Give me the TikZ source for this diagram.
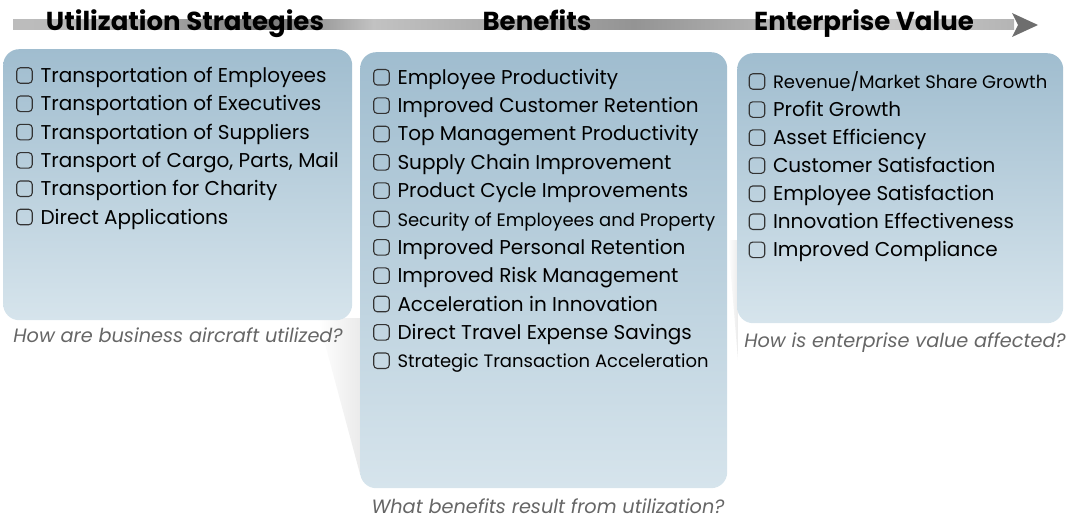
\documentclass[tikz,border=0pt]{standalone}
\usepackage{fontspec}
\setmainfont{Poppins}
\usetikzlibrary{calc}
\usetikzlibrary{positioning}
\definecolor{paneltop}{HTML}{A0BDCF}
\definecolor{panelbottom}{HTML}{D6E4EC}
\definecolor{questiongray}{HTML}{666666}
\definecolor{arrowgray}{HTML}{6E6E6E}
\pgfdeclarehorizontalshading{bandshade}{100bp}{color(0bp)=(white); color(4bp)=(black!18); color(30bp)=(black!28); color(38bp)=(black!52); color(43bp)=(black!24); color(56bp)=(black!42); color(68bp)=(black!20); color(80bp)=(black!36); color(90bp)=(black!32); color(100bp)=(black!60)}
\tikzstyle{panel}=[rectangle, rounded corners=16pt, top color=paneltop, bottom color=panelbottom, draw=none, inner sep=0pt]
\tikzstyle{checkbox}=[rectangle, draw=black!80, line width=1.1pt, rounded corners=3.5pt, minimum size=15.5pt, inner sep=0pt]
\tikzstyle{itemtext}=[anchor=west, inner sep=0pt, text height=18pt, text depth=4pt, font=\fontsize{20}{22}\selectfont]
\tikzstyle{heading}=[anchor=base, inner sep=0pt, font=\bfseries\fontsize{26}{28}\selectfont]
\tikzstyle{question}=[anchor=base, inner sep=0pt, text=questiongray, font=\itshape\fontsize{19.3}{21}\selectfont]
\tikzstyle{shadowwedge}=[left color=white, right color=black!8]
\newcommand{\drawchecklist}[5]{% Syntax: {name}{x of boxes}{first y}{row step}{items}
\pgfmathsetmacro{\boxx}{#2}
\pgfmathsetmacro{\firsty}{#3}
\pgfmathsetmacro{\rowstep}{#4}
  \foreach \txt [count=\i] in {#5} {
  \pgfmathsetmacro{\rowy}{\firsty + (\i-1)*\rowstep}
  \node[checkbox] (#1box\i) at (\boxx,\rowy) {};
  \node[itemtext, right=7.5pt of #1box\i] (#1item\i) {\txt};
}
}
\newcommand{\smalltext}[1]{{\fontsize{18}{20}\selectfont #1}}

\begin{document}
\begin{tikzpicture}[x=1pt, y=-1pt]
  \useasboundingbox (0,0) rectangle (1066,519);
  % header band with arrow head
  \shade[shading=bandshade] (13,20) rectangle (1014,30);
  \fill[arrowgray] (1012,13) -- (1038,25) -- (1012,37) -- (1018,25) -- cycle;
  \node[heading] (utilhead) at (185,31) {Utilization Strategies};
  \node[heading] (benefithead) at (537,31) {Benefits};
  \node[heading] (valuehead) at (864,31) {Enterprise Value};
  % faint shadows between the panels
  \shade[shadowwedge] (318,318) -- (360,318) -- (360,474) -- cycle;
  \shade[shadowwedge] (728,240) -- (738,240) -- (738,360) -- cycle;
  % panels
  \node[panel, minimum width=349pt, minimum height=271pt, anchor=north west] (utilpanel) at (3,49) {};
  \node[panel, minimum width=367pt, minimum height=436pt, anchor=north west] (benefitpanel) at (360,52) {};
  \node[panel, minimum width=326pt, minimum height=270pt, anchor=north west] (valuepanel) at (737,53) {};
  % lists
  \drawchecklist{util}{24.5}{75.5}{28.3}{Transportation of Employees, Transportation of Executives, Transportation of Suppliers, {Transport of Cargo, Parts, Mail}, Transportion for Charity, Direct Applications}
  \drawchecklist{benefit}{381.5}{77.3}{28.34}{Employee Productivity, Improved Customer Retention, Top Management Productivity, Supply Chain Improvement, Product Cycle Improvements, \smalltext{Security of Employees and Property}, Improved Personal Retention, Improved Risk Management, Acceleration in Innovation, Direct Travel Expense Savings, \smalltext{Strategic Transaction Acceleration}}
  \drawchecklist{value}{757}{81.5}{28.05}{\smalltext{Revenue/Market Share Growth}, Profit Growth, Asset Efficiency, Customer Satisfaction, Employee Satisfaction, Innovation Effectiveness, Improved Compliance}
  % questions under the panels
  \node[question] (utilquestion) at (178,342) {How are business aircraft utilized?};
  \node[question] (benefitquestion) at (548,513) {What benefits result from utilization?};
  \node[question] (valuequestion) at (905,347) {How is enterprise value affected?};
\end{tikzpicture}
\end{document}
